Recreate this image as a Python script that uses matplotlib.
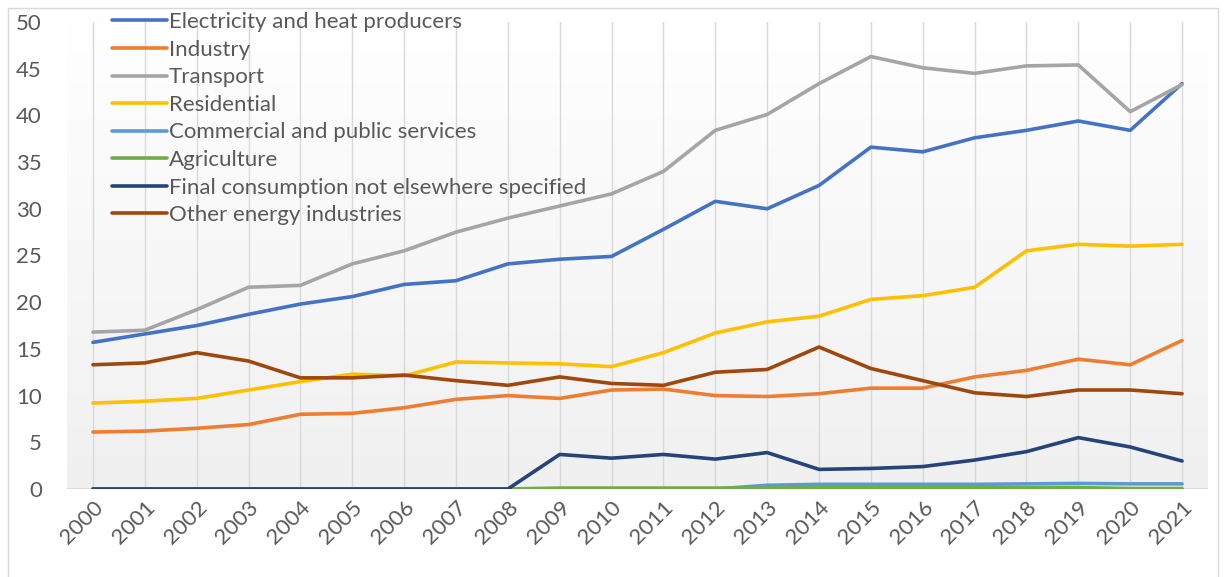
import numpy as np
import matplotlib
matplotlib.use("Agg")
import matplotlib.pyplot as plt
from matplotlib.colors import LinearSegmentedColormap
from matplotlib.patches import Rectangle

plt.rcParams['font.family'] = ['Lato', 'DejaVu Sans']

# ── Data ───────────────────────────────────────────────────────
years = [str(y) for y in range(2000, 2022)]

electricity = [15.7, 16.6, 17.5, 18.7, 19.8, 20.6, 21.9, 22.3, 24.1, 24.6, 24.9,
               27.8, 30.8, 30.0, 32.5, 36.6, 36.1, 37.6, 38.4, 39.4, 38.4, 43.4]
industry = [6.1, 6.2, 6.5, 6.9, 8.0, 8.1, 8.7, 9.6, 10.0, 9.7, 10.6,
            10.7, 10.0, 9.9, 10.2, 10.8, 10.8, 12.0, 12.7, 13.9, 13.3, 15.9]
transport = [16.8, 17.0, 19.2, 21.6, 21.8, 24.1, 25.5, 27.5, 29.0, 30.3, 31.6,
             34.0, 38.4, 40.1, 43.4, 46.3, 45.1, 44.5, 45.3, 45.4, 40.4, 43.3]
residential = [9.2, 9.4, 9.7, 10.6, 11.5, 12.3, 12.1, 13.6, 13.5, 13.4, 13.1,
               14.6, 16.7, 17.9, 18.5, 20.3, 20.7, 21.6, 25.5, 26.2, 26.0, 26.2]
commercial = [0, 0, 0, 0, 0, 0, 0, 0, 0, 0, 0,
              0, 0, 0.4, 0.5, 0.5, 0.5, 0.5, 0.55, 0.6, 0.55, 0.55]
agriculture = [0, 0, 0, 0, 0, 0, 0, 0, 0, 0.1, 0.1,
               0.1, 0.1, 0.1, 0.15, 0.15, 0.15, 0.15, 0.15, 0.15, 0.05, 0.05]
final_cons = [0, 0, 0, 0, 0, 0, 0, 0, 0, 3.7, 3.3,
              3.7, 3.2, 3.9, 2.1, 2.2, 2.4, 3.1, 4.0, 5.5, 4.5, 3.0]
other_energy = [13.3, 13.5, 14.6, 13.7, 11.9, 11.9, 12.2, 11.6, 11.1, 12.0, 11.3,
                11.1, 12.5, 12.8, 15.2, 12.9, 11.6, 10.3, 9.9, 10.6, 10.6, 10.2]

series = [
    ("Electricity and heat producers", electricity, "#4472C4"),
    ("Industry", industry, "#ED7D31"),
    ("Transport", transport, "#A5A5A5"),
    ("Residential", residential, "#FFC000"),
    ("Commercial and public services", commercial, "#5B9BD5"),
    ("Agriculture", agriculture, "#70AD47"),
    ("Final consumption not elsewhere specified", final_cons, "#264478"),
    ("Other energy industries", other_energy, "#9E480E"),
]

TEXT = "#595959"

# ── Figure ─────────────────────────────────────────────────────
fig = plt.figure(figsize=(12.27, 5.77), dpi=100)
fig.patches.append(Rectangle((8 / 1227, -0.01), 1210 / 1227, 1 - 8 / 577 + 0.01,
                             transform=fig.transFigure, fill=False,
                             edgecolor="#d9d9d9", lw=1))
ax = fig.add_axes([67 / 1227, 1 - 489 / 577, (1208 - 67) / 1227, (489 - 22) / 577])

x = np.arange(len(years))
ax.set_xlim(-0.5, len(years) - 0.5)
ax.set_ylim(0, 50)

# plot-area gradient (white -> light gray)
cmap = LinearSegmentedColormap.from_list("bg", ["#f0f0f0", "#ffffff"])
grad = np.linspace(0, 1, 256).reshape(-1, 1)
ax.imshow(grad, aspect="auto", cmap=cmap, origin="lower",
          extent=[-0.5, len(years) - 0.5, 0, 50], zorder=0)

for xi in x:
    ax.axvline(xi, color="#d9d9d9", lw=1, zorder=1)
ax.axhline(0, color="#d9d9d9", lw=1.2, zorder=1)

for label, vals, color in series:
    ax.plot(x, vals, color=color, lw=2.6, label=label, zorder=3,
            solid_capstyle="round", solid_joinstyle="round")

ax.set_xticks(x)
ax.set_xticklabels(years, rotation=45, ha="right", rotation_mode="anchor",
                   fontsize=16, color=TEXT)
ax.set_yticks(range(0, 51, 5))
ax.set_yticklabels([str(v) for v in range(0, 51, 5)], fontsize=16, color=TEXT)
ax.tick_params(axis="both", length=0)
ax.tick_params(axis="y", pad=18)
ax.tick_params(axis="x", pad=6)
for s in ax.spines.values():
    s.set_visible(False)

leg = ax.legend(loc="upper left", bbox_to_anchor=(0.032, 1.04), frameon=False,
                fontsize=16, handlelength=2.45, handletextpad=0.1,
                labelspacing=0.34, borderaxespad=0)
for t in leg.get_texts():
    t.set_color(TEXT)

fig.savefig("out.png", dpi=100)
